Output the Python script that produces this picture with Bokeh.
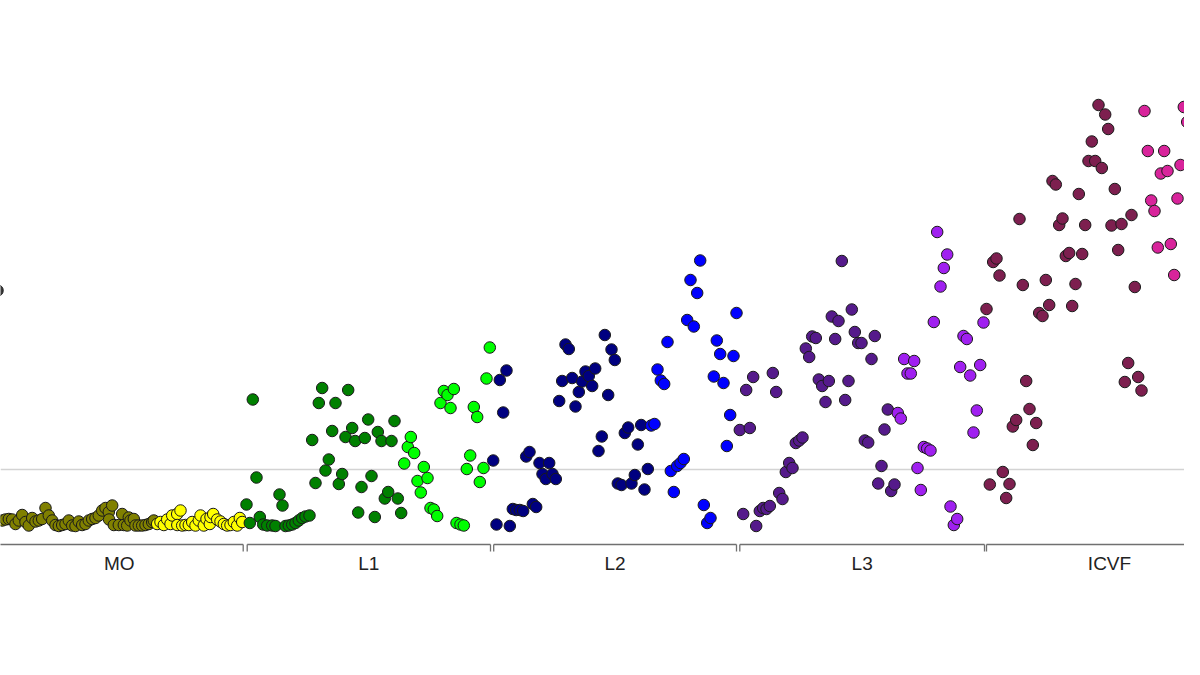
from bokeh.plotting import figure
from bokeh.models import Span
from bokeh.embed import file_html
from bokeh.resources import INLINE
from bokeh.core.properties import value

# ---------------- data ----------------
groups = ["MO", "L1", "L2", "L3", "ICVF"]
group_start = [-2.5, 123.35, 246.6, 369.65, 493.0]
group_end = [121.35, 245.0, 368.0, 492.0, 616.0]
threshold = 1.5

edge_x = [-1.5]
edge_y = [5.08]

mo_a_x = [0.85, 2.5, 4.15, 5.85, 7.5, 9.15, 10.85, 12.5, 14.15, 15.85, 17.5, 19.15, 20.85,
          22.5, 24.15, 25.85, 27.5, 29.15, 30.85, 32.5, 34.15, 35.85, 37.5, 39.15, 40.85,
          42.5, 44.15, 45.85, 47.5, 49.15, 50.85, 52.5, 54.15, 54.3, 55.85, 56.65, 59.15,
          60.85, 61.65, 63.35, 64.15, 65.0, 66.65, 67.5, 69.15, 70.85, 72.5, 74.15, 75.85, 76.65]
mo_a_y = [0.48, 0.50, 0.51, 0.50, 0.41, 0.48, 0.59, 0.45, 0.38, 0.53, 0.46, 0.48, 0.51,
          0.73, 0.58, 0.48, 0.39, 0.37, 0.39, 0.41, 0.48, 0.38, 0.37, 0.46, 0.39,
          0.41, 0.48, 0.51, 0.53, 0.58, 0.68, 0.73, 0.65, 0.50, 0.78, 0.39, 0.39,
          0.61, 0.39, 0.38, 0.54, 0.48, 0.51, 0.38, 0.38, 0.38, 0.39, 0.41, 0.45, 0.48]

mo_b_x = [78.35, 80.0, 81.65, 83.35, 85.0, 85.85, 88.35, 88.4, 90.0, 90.85, 92.5, 94.15,
          95.85, 97.5, 99.15, 100.0, 101.65, 103.0, 104.65, 105.0, 106.35, 108.35, 110.0,
          111.65, 113.35, 115.0, 116.65, 118.35, 119.65, 120.85]
mo_b_y = [0.41, 0.45, 0.39, 0.50, 0.41, 0.58, 0.61, 0.39, 0.68, 0.38, 0.39, 0.39,
          0.45, 0.38, 0.48, 0.58, 0.38, 0.51, 0.41, 0.55, 0.61, 0.50, 0.46,
          0.41, 0.38, 0.39, 0.45, 0.38, 0.53, 0.45]

l1_a_x = [123.0, 124.65, 126.15, 128.0, 129.65, 131.35, 133.35, 135.85, 137.5, 139.5, 141.0,
          142.5, 144.15, 145.85, 147.5, 149.15, 150.85, 152.5, 154.5, 155.85, 157.5, 159.15,
          160.85, 162.5, 164.15, 165.85, 167.5, 169.15, 170.85, 172.5, 173.85, 175.85, 177.35,
          178.85, 180.5, 182.15, 183.85, 185.5, 187.15, 188.65, 190.5, 192.15, 193.85, 195.5,
          197.0, 198.65, 200.35]
l1_a_y = [0.80, 0.43, 2.90, 1.34, 0.55, 0.40, 0.38, 0.38, 0.37, 1.00, 0.78,
          0.37, 0.38, 0.40, 0.43, 0.48, 0.53, 0.56, 0.58, 2.09, 1.23, 2.83,
          3.13, 1.48, 1.70, 2.27, 2.83, 1.21, 1.41, 2.15, 3.09, 2.33, 2.07,
          0.64, 1.15, 2.13, 2.50, 1.37, 0.55, 2.25, 2.07, 0.92, 1.05, 2.07,
          2.47, 0.92, 0.63]

l1_b_x = [201.85, 203.65, 205.15, 206.85, 208.5, 210.15, 211.65, 213.5, 215.0, 216.65, 218.35,
          220.0, 221.65, 223.5, 225.0, 226.65, 228.0, 230.0, 231.65, 233.15, 234.85, 236.65,
          238.35, 239.65, 241.5, 243.0, 244.65]
l1_b_y = [1.62, 1.95, 2.15, 1.83, 1.27, 1.04, 1.55, 1.33, 0.73, 0.70, 0.57,
          2.83, 3.07, 2.99, 2.73, 3.11, 0.43, 0.40, 0.38, 1.51, 1.78, 2.75,
          2.55, 1.25, 1.53, 3.32, 3.94]

l2_a_x = [246.35, 248.0, 249.65, 251.35, 253.0, 254.65, 256.15, 257.85, 259.65, 261.35, 262.85,
          264.5, 266.15, 267.85, 269.5, 271.0, 272.65, 274.35, 276.0, 277.65, 279.35, 280.85,
          282.5, 284.15, 285.85, 287.5, 289.15, 290.85, 292.5, 294.15, 295.85, 297.35, 299.0,
          300.65, 302.15, 303.85, 305.5, 307.15, 308.65, 310.5, 312.15, 313.85, 315.5, 317.15,
          318.65, 320.35, 322.0, 323.65]
l2_a_y = [1.68, 0.40, 3.29, 2.64, 3.48, 0.37, 0.71, 0.69, 0.69, 0.67, 1.76,
          1.85, 0.81, 0.75, 1.63, 1.41, 1.31, 1.63, 1.41, 1.31, 2.87, 3.27,
          4.00, 3.91, 3.33, 2.76, 3.05, 3.26, 3.46, 3.37, 3.17, 3.52, 1.87,
          2.16, 4.19, 2.99, 3.90, 3.69, 1.22, 1.19, 2.23, 2.34, 1.22, 1.39,
          2.00, 2.39, 1.10, 1.51]

l2_b_x = [325.35, 327.0, 328.5, 330.15, 331.85, 333.5, 335.15, 336.65, 338.35, 340.0, 341.65,
          343.35, 345.0, 346.65, 348.35, 349.85, 351.65, 353.35, 355.0, 356.65, 358.15, 359.85,
          361.5, 363.15, 364.85, 366.5, 368.0]
l2_b_y = [2.38, 2.41, 3.50, 3.28, 3.21, 4.05, 1.47, 1.05, 1.57, 1.63, 1.71,
          4.49, 5.29, 4.36, 5.03, 5.68, 0.79, 0.43, 0.53, 3.36, 4.08, 3.81,
          3.23, 1.97, 2.59, 3.77, 4.63]

l3_a_x = [369.65, 371.35, 372.85, 374.65, 376.35, 377.85, 379.65, 381.35, 383.0, 384.65, 386.15,
          387.85, 389.35, 391.0, 392.65, 394.35, 396.0, 397.65, 399.35, 401.0, 402.65, 404.35,
          405.85, 407.65, 409.15, 410.85, 412.5, 414.15, 415.65, 417.35, 419.0, 420.65, 422.35,
          424.0, 425.65, 427.15, 428.85, 430.5, 432.15, 433.85, 435.5, 437.15, 438.85, 440.5,
          442.0, 443.65, 445.35, 447.0]
l3_a_y = [2.29, 0.61, 3.09, 2.33, 3.35, 0.37, 0.67, 0.73, 0.71, 0.77, 3.43,
          3.05, 1.03, 0.91, 1.45, 1.63, 1.53, 2.03, 2.08, 2.14, 3.92, 3.75,
          4.16, 4.13, 3.30, 3.17, 2.85, 3.27, 4.56, 4.11, 4.47, 5.67, 2.89,
          3.27, 4.70, 4.25, 4.03, 4.03, 2.08, 2.04, 3.71, 4.17, 1.22, 1.57,
          2.30, 2.70, 1.07, 1.20]

l3_b_x = [448.65, 450.15, 451.85, 453.5, 455.15, 456.85, 458.5, 460.15, 461.65, 463.35, 465.0,
          466.65, 468.35, 470.0, 471.65, 473.35, 475.0, 476.65, 478.35, 479.85, 481.5, 483.15,
          484.85, 486.5, 488.15, 489.85, 491.5]
l3_b_y = [2.63, 2.52, 3.71, 3.42, 3.42, 3.67, 1.53, 1.09, 1.95, 1.92, 1.88,
          4.45, 6.25, 5.16, 5.53, 5.80, 0.76, 0.39, 0.51, 3.55, 4.17, 4.11,
          3.38, 2.24, 2.68, 3.59, 4.44]

icvf_a_x = [493.0, 494.65, 496.35, 498.0, 499.5, 501.15, 502.85, 504.5, 506.15, 507.85, 509.5,
            511.15, 512.85, 514.5, 516.15, 517.85, 519.35, 521.0, 522.65, 524.35, 526.0, 527.65,
            529.35, 531.0, 532.65, 534.35, 535.85, 537.5, 539.15, 540.85, 542.35, 544.0, 545.65,
            547.35, 549.0, 550.65, 552.35, 553.85, 555.5, 557.15, 558.85, 560.5, 562.15, 563.85,
            565.5, 567.15, 568.85, 570.5]
icvf_a_y = [4.71, 1.20, 5.65, 5.72, 5.38, 1.45, 0.93, 1.21, 2.36, 2.49, 6.51,
            5.19, 3.27, 2.71, 1.99, 2.43, 4.63, 4.57, 5.29, 4.79, 7.27, 7.20,
            6.39, 6.52, 5.77, 5.83, 4.77, 5.21, 7.01, 5.81, 6.39, 7.67, 8.06,
            7.67, 8.79, 7.53, 8.60, 8.31, 6.38, 7.11, 5.89, 6.41, 3.25, 3.63,
            6.59, 5.15, 3.35, 3.08]

icvf_b_x = [572.0, 573.65, 575.35, 577.0, 578.65, 580.15, 581.85, 583.5, 585.15, 586.85, 588.5,
            590.0, 591.65, 593.35, 595.0, 596.65, 598.35, 600.0, 600.75, 600.75]
icvf_b_y = [8.67, 7.87, 6.88, 6.67, 5.94, 7.42, 7.87, 7.47, 6.01, 5.39, 6.92,
            7.59, 8.75, 8.45, 8.88, 8.95, 8.98, 9.00, 4.28, 5.58]

series = [
    (edge_x, edge_y, "#3a3a3a"),
    (mo_a_x, mo_a_y, "#808000"),
    (mo_b_x, mo_b_y, "#FFFF00"),
    (l1_a_x, l1_a_y, "#008000"),
    (l1_b_x, l1_b_y, "#00FF00"),
    (l2_a_x, l2_a_y, "#000080"),
    (l2_b_x, l2_b_y, "#0000FF"),
    (l3_a_x, l3_a_y, "#551A8B"),
    (l3_b_x, l3_b_y, "#A020F0"),
    (icvf_a_x, icvf_a_y, "#7D1F4F"),
    (icvf_b_x, icvf_b_y, "#D8249B"),
]

# ---------------- figure ----------------
p = figure(width=1184, height=659, x_range=(0, 592), y_range=(-2.3, 10.88),
           output_backend="svg", toolbar_location=None,
           x_axis_location=None, y_axis_location=None, min_border=0)
p.grid.visible = False
p.outline_line_color = None
p.background_fill_color = "white"

p.add_layout(Span(location=threshold, dimension="width", line_color="#d3d3d3",
                  line_width=1.5, level="underlay"))

# group brackets
p.segment(x0=group_start, y0=[0] * len(groups), x1=group_end, y1=[0] * len(groups),
          line_color="#707070", line_width=1.3)
ends = group_start + group_end
p.segment(x0=ends, y0=[0] * len(ends), x1=ends, y1=[-0.14] * len(ends),
          line_color="#707070", line_width=1.3)
mids = [(a + b) / 2 for a, b in zip(group_start, group_end)]
p.text(x=mids, y=[-0.38] * len(groups), text=groups, text_align="center",
       text_baseline="middle", text_font=value("Liberation Sans"),
       text_font_size="19px", text_color="#222222")

for xs, ys, c in series:
    p.scatter(xs, ys, size=11.5, fill_color=c, line_color="#1a1a1a", line_width=1)

open("out.html", "w").write(file_html(p, INLINE))
